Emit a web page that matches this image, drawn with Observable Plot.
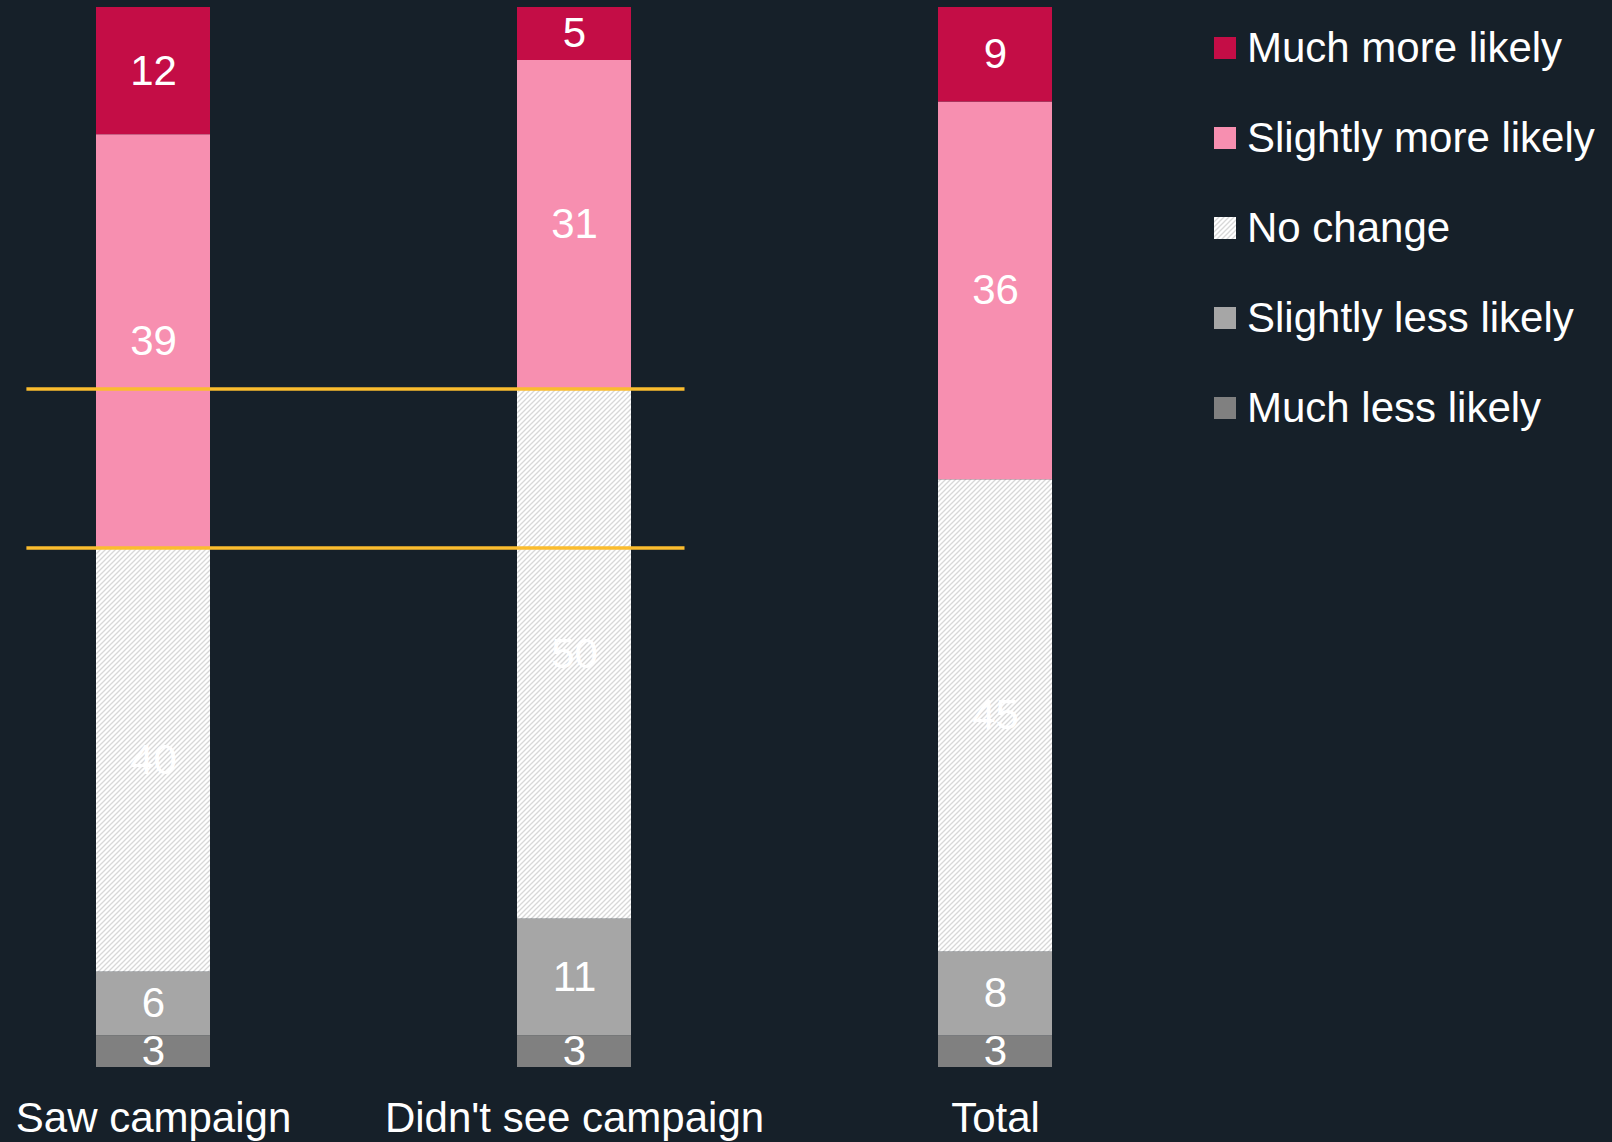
<!DOCTYPE html>
<html><head><meta charset="utf-8">
<script src="https://cdn.jsdelivr.net/npm/d3@7"></script>
<script src="https://cdn.jsdelivr.net/npm/@observablehq/plot@0.6"></script>
<style>
html,body{margin:0;padding:0;background:#162029;}
#wrap{position:relative;width:1612px;height:1142px;font-family:"Liberation Sans",Arial,sans-serif;}
#legend{position:absolute;left:1214px;top:3px;color:#fff;font-size:42px;}
.item{display:flex;align-items:center;height:90px;line-height:90px;white-space:nowrap;}
.sw{width:22px;height:22px;margin-right:11px;flex:none;}
</style></head><body><div id="wrap"><div id="legend"></div></div>
<script>
const groups = ["Saw campaign", "Didn't see campaign", "Total"];
const responses = ["Much less likely", "Slightly less likely", "No change", "Slightly more likely", "Much more likely"];
const sawCampaign = [3, 6, 40, 39, 12];
const didntSeeCampaign = [3, 11, 50, 31, 5];
const totalValues = [3, 8, 45, 36, 9];
const colors = ["#808080", "#a6a6a6", "url(#hatch)", "#f78fb0", "#c40d46"];
const lineColor = "#fbbc2e";

const series = [sawCampaign, didntSeeCampaign, totalValues];
const data = [];
groups.forEach((g, gi) => responses.forEach((r, ri) => data.push({group: g, response: r, value: series[gi][ri]})));

// divider lines at the top of "No change" in the first two groups
const cut = (vals) => d3.sum(vals.slice(0, 3)) / d3.sum(vals);
const dividers = [
  {y: cut(sawCampaign), x1: groups[0], x2: groups[1]},
  {y: cut(didntSeeCampaign), x1: groups[0], x2: groups[1]}
];

const patternSrc = (id) => `<pattern id="${id}" patternUnits="userSpaceOnUse" width="5" height="5"><rect width="5" height="5" fill="#ffffff"/><path d="M-1,1 l2,-2 M0,5 l5,-5 M4,6 l2,-2" stroke="#d8d8d8" stroke-width="1.3"/></pattern>`;

const defsMark = () => {
  const defs = document.createElementNS("http://www.w3.org/2000/svg", "defs");
  defs.innerHTML = patternSrc("hatch");
  return defs;
};

const chart = Plot.plot({
  width: 1612,
  height: 1142,
  marginTop: 7,
  marginBottom: 75,
  marginLeft: 95,
  marginRight: 560,
  style: {background: "transparent", color: "#ffffff", fontFamily: "'Liberation Sans', Arial, sans-serif", fontSize: "42px", overflow: "visible"},
  x: {domain: groups, paddingInner: 0.7295, paddingOuter: 0, tickSize: 0, tickPadding: 35, label: null},
  y: {axis: null, domain: [0, 1]},
  color: {domain: responses, range: colors},
  marks: [
    defsMark,
    Plot.barY(data, Plot.stackY({offset: "normalize", x: "group", y: "value", fill: "response"})),
    Plot.text(data, Plot.stackY({offset: "normalize", x: "group", y: "value", text: "value", fill: "#ffffff", fontSize: 42})),
    Plot.ruleY(dividers, {y: "y", x1: "x1", x2: "x2", stroke: lineColor, strokeWidth: 3.5, insetLeft: -69.6, insetRight: -53.5})
  ]
});
document.getElementById("wrap").appendChild(chart);

const legend = document.getElementById("legend");
const legendOrder = responses.slice().reverse();
legendOrder.forEach((r) => {
  const c = colors[responses.indexOf(r)];
  const item = document.createElement("div");
  item.className = "item";
  const fill = c.startsWith("url") ? "url(#hatchLegend)" : c;
  const defs = c.startsWith("url") ? `<defs>${patternSrc("hatchLegend")}</defs>` : "";
  item.innerHTML = `<svg class="sw" width="22" height="22">${defs}<rect width="22" height="22" fill="${fill}"/></svg><span>${r}</span>`;
  legend.appendChild(item);
});
</script>
</body></html>
